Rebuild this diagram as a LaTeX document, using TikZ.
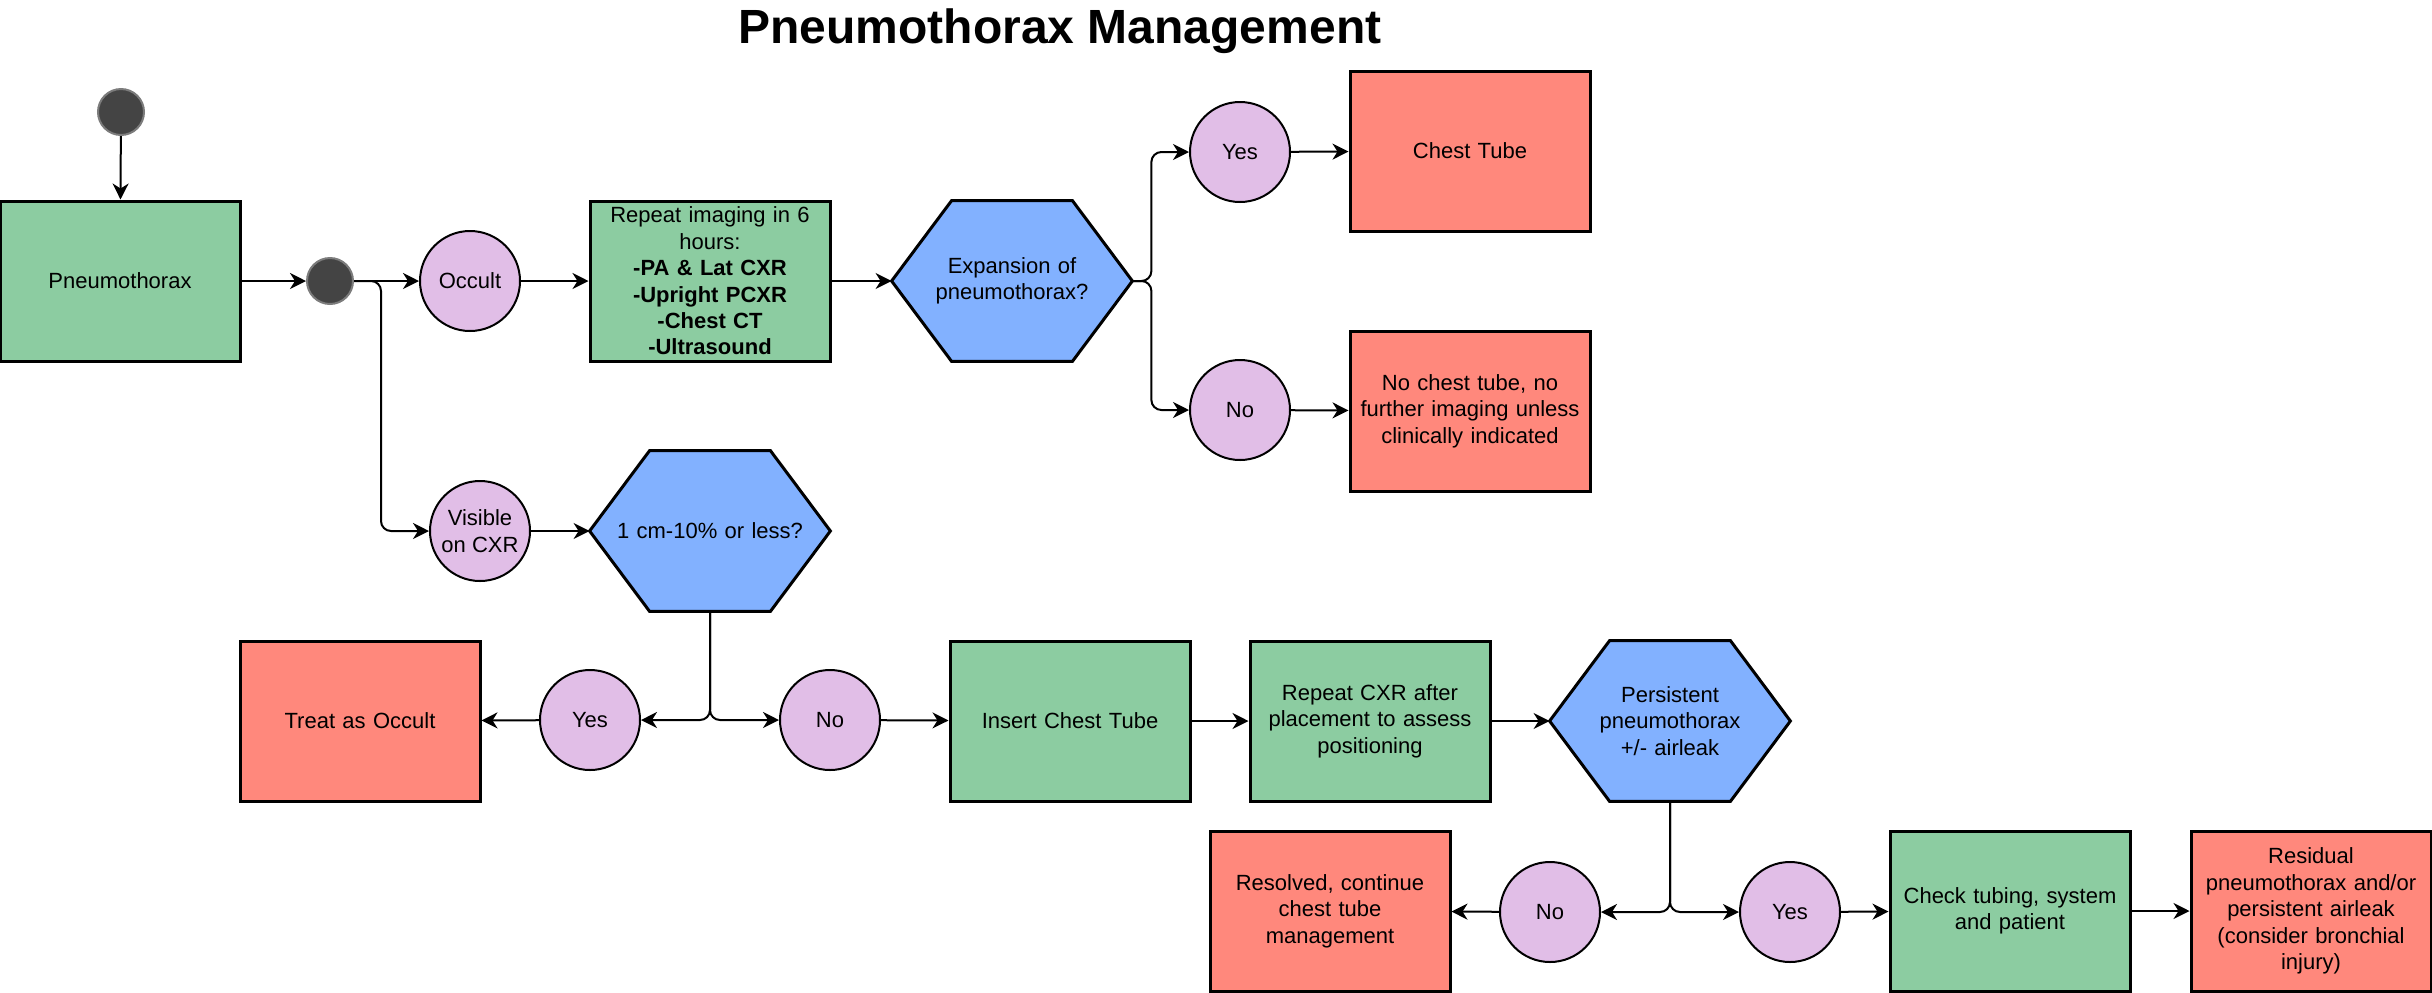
\documentclass[tikz,border=0pt]{standalone}
\usepackage{fontspec}
\setmainfont{Liberation Sans}
\usetikzlibrary{arrows.meta,backgrounds}

\definecolor{stepgreen}{RGB}{140,204,161}
\definecolor{endred}{RGB}{255,136,124}
\definecolor{askblue}{RGB}{130,177,255}
\definecolor{answerpurple}{RGB}{225,190,231}
\definecolor{dotgray}{RGB}{68,68,68}

\tikzset{
  every node/.style={font=\fontsize{11}{13.2}\selectfont},
  process/.style={draw, line width=1.5pt, fill=stepgreen, minimum width=120pt, minimum height=80pt, text width=116pt, align=center, inner sep=0pt},
  outcome/.style={process, fill=endred},
  decision/.style={minimum width=120pt, minimum height=80pt, text width=110pt, align=center, inner sep=0pt},
  answer/.style={circle, draw, line width=1pt, fill=answerpurple, minimum size=50pt, inner sep=0pt, align=center},
  dot/.style={circle, draw=dotgray!70!white, line width=1pt, fill=dotgray, minimum size=23pt, inner sep=0pt},
  flow/.style={-{Stealth[length=8pt,width=8pt,inset=2.5pt]}, line width=1pt, rounded corners=5pt},
}

\begin{document}
\begin{tikzpicture}[x=1pt,y=1pt,yscale=-1]
\useasboundingbox (0,0) rectangle (1216,496);

\node[font=\bfseries\fontsize{24}{28}\selectfont] (title) at (530,15.5) {Pneumothorax Management};

% start and first split
\node[dot] (start) at (60.5,56) {};
\node[process] (pneumo) at (60,140.5) {Pneumothorax};
\node[dot] (split) at (165,140.5) {};

% occult branch
\node[answer] (occult) at (235,140.5) {Occult};
\node[process] (reimage) at (355,140.5) {Repeat imaging in 6\\hours:\\\textbf{-PA \& Lat CXR}\\\textbf{-Upright PCXR}\\\textbf{-Chest CT}\\\textbf{-Ultrasound}};
\node[decision] (expand) at (506,140.5) {Expansion of\\pneumothorax?};
\node[answer] (expyes) at (620,76) {Yes};
\node[outcome] (tube) at (735,75.5) {Chest Tube};
\node[answer] (expno) at (620,205) {No};
\node[outcome] (notube) at (735,205.5) {No chest tube, no\\further imaging unless\\clinically indicated};

% visible branch
\node[answer] (visible) at (240,265.5) {Visible\\on CXR};
\node[decision] (size) at (355,265.5) {1 cm-10\% or less?};
\node[answer] (smallyes) at (295,360) {Yes};
\node[outcome] (treat) at (180,360.5) {Treat as Occult};
\node[answer] (smallno) at (415,360) {No};
\node[process] (insert) at (535,360.5) {Insert Chest Tube};
\node[process] (recxr) at (685,360.5) {Repeat CXR after\\placement to assess\\positioning};
\node[decision] (persist) at (835,360.5) {Persistent\\pneumothorax\\+/- airleak};
\node[answer] (persno) at (775,456) {No};
\node[outcome] (resolved) at (665,455.5) {Resolved, continue\\chest tube\\management};
\node[answer] (persyes) at (895,456) {Yes};
\node[process] (check) at (1005,455.5) {Check tubing, system\\and patient};
\node[outcome] (residual) at (1155.5,455.5) {Residual\\pneumothorax and/or\\persistent airleak\\(consider bronchial\\injury)};

\begin{scope}[on background layer]
\foreach \h in {expand,size,persist}
  \draw[line width=1.5pt, fill=askblue] (\h.west) -- ([xshift=30pt]\h.north west) -- ([xshift=-30pt]\h.north east) -- (\h.east) -- ([xshift=-30pt]\h.south east) -- ([xshift=30pt]\h.south west) -- cycle;
\end{scope}

\draw[flow] (start) -- (pneumo);
\draw[flow] (pneumo) -- (split);
\draw[flow] (split) -- (occult);
\draw[flow] (split.east) -- ++(13.5,0) |- (visible.west);
\draw[flow] (occult) -- (reimage);
\draw[flow] (reimage) -- (expand.west);
\draw[flow] (expand.east) -- ++(9.5,0) |- (expyes.west);
\draw[flow] (expand.east) -- ++(9.5,0) |- (expno.west);
\draw[flow] (expyes) -- (tube);
\draw[flow] (expno) -- (notube);
\draw[flow] (visible) -- (size.west);
\draw[flow] (size.south) |- (smallyes.east);
\draw[flow] (size.south) |- (smallno.west);
\draw[flow] (smallyes) -- (treat);
\draw[flow] (smallno) -- (insert);
\draw[flow] (insert) -- (recxr);
\draw[flow] (recxr) -- (persist.west);
\draw[flow] (persist.south) |- (persno.east);
\draw[flow] (persist.south) |- (persyes.west);
\draw[flow] (persno) -- (resolved);
\draw[flow] (persyes) -- (check);
\draw[flow] (check) -- (residual);

\end{tikzpicture}
\end{document}
